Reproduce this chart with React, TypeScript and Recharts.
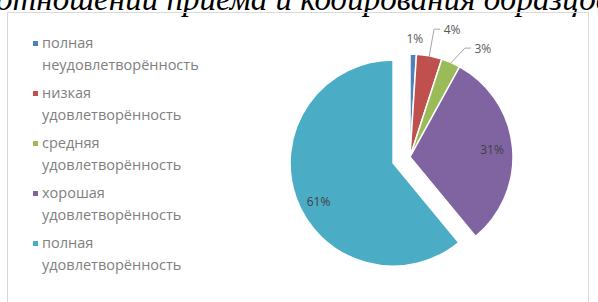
import React from "react";
import { PieChart, Pie, Cell, Sector } from "recharts";

const categories = [
  "полная неудовлетворённость",
  "низкая удовлетворённость",
  "средняя удовлетворённость",
  "хорошая удовлетворённость",
  "полная удовлетворённость",
];
const shares = [1, 4, 3, 31, 61];
const colors = ["#4F81BD", "#C0504D", "#9BBB59", "#8064A2", "#4BACC6"];

// how far each slice is pulled out of the pie
const explode = [0, 0, 0, 0, 18];
// small manual label nudges, like excel's "best fit"
const labelNudge = [
  [1, 4],
  [19, -7],
  [24, 4],
  [0, 0],
  [3, 10],
];

const data = categories.map((name, i) => ({ name, value: shares[i] }));

const RADIAN = Math.PI / 180;

const ExplodedSector = (props: any) => {
  const idx = categories.indexOf(props.name ?? props.payload?.name);
  const d = explode[idx] || 0;
  const dx = Math.cos(-props.midAngle * RADIAN) * d;
  const dy = Math.sin(-props.midAngle * RADIAN) * d;
  return <Sector {...props} cx={props.cx + dx} cy={props.cy + dy} />;
};

const renderLabel = (props: any) => {
  const { cx, cy, midAngle, outerRadius, value, index } = props;
  const cos = Math.cos(-midAngle * RADIAN);
  const sin = Math.sin(-midAngle * RADIAN);
  const d = explode[index] || 0;
  const [nx, ny] = labelNudge[index];
  const text = `${value}%`;
  if (value >= 10) {
    const r = outerRadius * 0.8 + d;
    return (
      <text
        x={cx + cos * r + nx}
        y={cy + sin * r + ny}
        fill="#404040"
        fontSize={12}
        fontFamily="Open Sans"
        textAnchor="middle"
        dominantBaseline="central"
      >
        {text}
      </text>
    );
  }
  const r = outerRadius + 20;
  const lx = cx + cos * r + nx;
  const ly = cy + sin * r + ny;
  const ex = cx + cos * (outerRadius - 1);
  const ey = cy + sin * (outerRadius - 1);
  const left = lx - 10;
  const showLine = left - 8 > ex + 2;
  return (
    <g>
      {showLine && (
        <polyline
          points={`${ex},${ey} ${left - 8},${ly} ${left - 2},${ly}`}
          fill="none"
          stroke="#a6a6a6"
          strokeWidth={1}
        />
      )}
      <text
        x={lx}
        y={ly}
        fill="#595959"
        fontSize={12}
        fontFamily="Open Sans"
        textAnchor="middle"
        dominantBaseline="central"
      >
        {text}
      </text>
    </g>
  );
};

const ChartLegend = () => (
  <div
    style={{
      position: "absolute",
      left: 30,
      top: 32,
      fontFamily: "Open Sans",
      fontSize: 14.5,
      color: "#808080",
    }}
  >
    {categories.map((name, i) => {
      const [first, second] = name.split(" ");
      return (
        <div key={name} style={{ position: "relative", height: 50, lineHeight: "22px", paddingLeft: 12 }}>
          <span
            style={{
              position: "absolute",
              left: 3,
              top: 9,
              width: 5,
              height: 5,
              background: colors[i],
            }}
          />
          <div>{first}</div>
          <div>{second}</div>
        </div>
      );
    })}
  </div>
);

export default function App() {
  return (
    <div style={{ position: "fixed", left: 0, top: 0, width: 598, height: 302, overflow: "hidden", background: "#fff" }}>
      <div
        style={{
          position: "absolute",
          left: -4,
          top: -16,
          whiteSpace: "nowrap",
          fontFamily: "Liberation Serif",
          fontStyle: "italic",
          fontSize: 33,
          lineHeight: "30px",
          color: "#000",
        }}
      >
        отношении приема и кодирования образцов
      </div>
      <div
        style={{
          position: "absolute",
          left: 7,
          top: 12,
          width: 580,
          height: 300,
          border: "1px solid #d9d9d9",
        }}
      />
      <ChartLegend />
      <div style={{ position: "absolute", left: 0, top: 0 }}>
        <PieChart width={598} height={302}>
          <Pie
            data={data}
            dataKey="value"
            nameKey="name"
            cx={405}
            cy={152}
            outerRadius={103}
            startAngle={90}
            endAngle={-270}
            stroke="#fff"
            strokeWidth={1.5}
            label={renderLabel}
            labelLine={false}
            shape={ExplodedSector}
            activeShape={ExplodedSector}
            isAnimationActive={false}
          >
            {data.map((entry, i) => (
              <Cell key={entry.name} fill={colors[i]} />
            ))}
          </Pie>
        </PieChart>
      </div>
    </div>
  );
}
